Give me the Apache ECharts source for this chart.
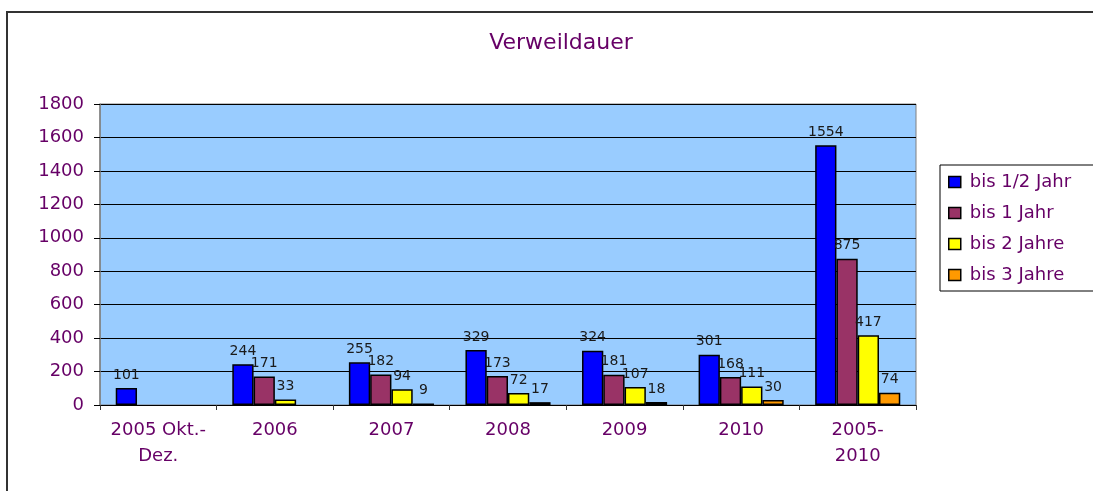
<!DOCTYPE html>
<html>
<head>
<meta charset="utf-8">
<script src="https://cdn.jsdelivr.net/npm/echarts@6/dist/echarts.min.js"></script>
<style>
  html, body { margin: 0; padding: 0; background: #fff; }
  #chart { width: 1093px; height: 491px; }
</style>
</head>
<body>
<div id="chart"></div>
<script>
// Verweildauer - Balken je Zeitraum
const categories = ['2005 Okt.-\nDez.', '2006', '2007', '2008', '2009', '2010', '2005-\n2010'];
const seriesNames = ['bis 1/2 Jahr', 'bis 1 Jahr', 'bis 2 Jahre', 'bis 3 Jahre'];
const halbJahr = [101, 244, 255, 329, 324, 301, 1554];
const einJahr = [null, 171, 182, 173, 181, 168, 875];
const zweiJahre = [null, 33, 94, 72, 107, 111, 417];
const dreiJahre = [null, null, 9, 17, 18, 30, 74];
const yTicks = [0, 200, 400, 600, 800, 1000, 1200, 1400, 1600, 1800];

const colors = ['#0000FF', '#993366', '#FFFF00', '#FF9900'];
const purple = '#660066';
const font = 'DejaVu Sans';

const chart = echarts.init(document.getElementById('chart'));

function makeSeries(name, data) {
  return {
    name: name,
    type: 'bar',
    data: data,
    barGap: '0%',
    barCategoryGap: '27%',
    itemStyle: {
      borderColor: '#000',
      borderWidth: 1.5
    },
    label: {
      show: true,
      position: 'top',
      distance: 6,
      color: '#1a1a1a',
      fontFamily: font,
      fontSize: 14
    }
  };
}

var option = {
  backgroundColor: '#fff',
  color: colors,
  animation: false,
  title: {
    text: 'Verweildauer',
    left: 556,
    textAlign: 'center',
    top: 27,
    textStyle: {
      color: purple,
      fontFamily: font,
      fontSize: 22,
      fontWeight: 'normal'
    }
  },
  legend: {
    orient: 'vertical',
    left: 940,
    top: 165,
    data: seriesNames,
    itemWidth: 12,
    itemHeight: 11,
    itemGap: 11,
    padding: [7, 30, 6, 8],
    borderColor: '#000',
    borderWidth: 1,
    backgroundColor: '#fff',
    icon: 'rect',
    itemStyle: {
      borderColor: '#000',
      borderWidth: 1.5
    },
    textStyle: {
      color: purple,
      fontFamily: font,
      fontSize: 18,
      lineHeight: 20,
      padding: [0, 0, 0, 4]
    }
  },
  graphic: [
    {
      type: 'rect',
      shape: { x: 7, y: 12, width: 1300, height: 700 },
      style: { fill: 'none', stroke: '#333', lineWidth: 2 },
      z: 100,
      silent: true
    }
  ],
  grid: {
    left: 100,
    right: 177,
    top: 104,
    bottom: 86,
    show: true,
    backgroundColor: '#99CCFF',
    borderColor: '#808080',
    borderWidth: 1
  },
  xAxis: {
    type: 'category',
    data: categories,
    axisLine: { lineStyle: { color: '#000', width: 1 } },
    axisTick: { show: true, length: 5, lineStyle: { color: '#333' } },
    axisLabel: {
      interval: 0,
      color: purple,
      fontFamily: font,
      fontSize: 18,
      lineHeight: 26,
      margin: 12
    }
  },
  yAxis: {
    type: 'value',
    min: yTicks[0],
    max: yTicks[yTicks.length - 1],
    interval: 200,
    axisLine: { show: true, lineStyle: { color: '#808080', width: 1.5 } },
    axisTick: { show: true, length: 6, lineStyle: { color: '#000' } },
    axisLabel: {
      color: purple,
      fontFamily: font,
      fontSize: 18,
      margin: 16,
      formatter: function (v) { return String(v); }
    },
    splitLine: { show: true, lineStyle: { color: '#000', width: 1 } }
  },
  series: [
    makeSeries(seriesNames[0], halbJahr),
    makeSeries(seriesNames[1], einJahr),
    makeSeries(seriesNames[2], zweiJahre),
    makeSeries(seriesNames[3], dreiJahre)
  ]
};

chart.setOption(option);
</script>
</body>
</html>
